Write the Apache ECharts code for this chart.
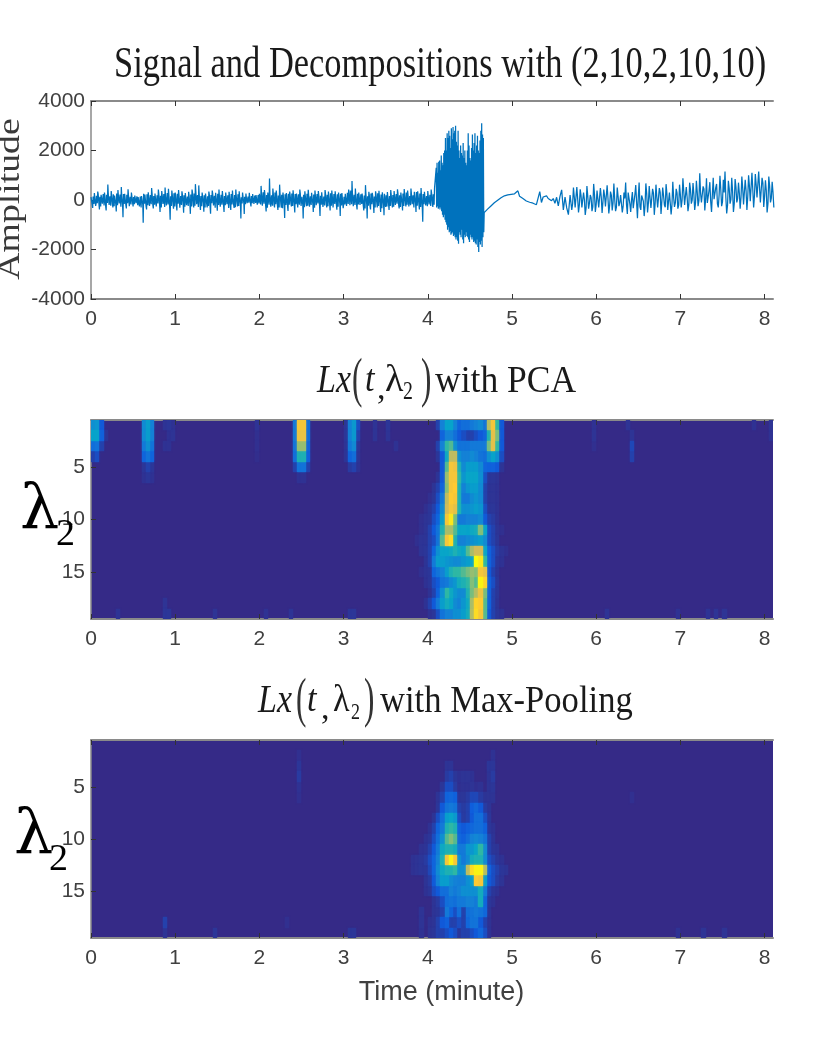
<!DOCTYPE html>
<html><head><meta charset="utf-8">
<style>html,body{margin:0;padding:0;background:#fff}#c{width:816px;height:1056px}</style>
<script src="https://cdn.jsdelivr.net/npm/echarts@6/dist/echarts.min.js"></script>
</head><body><div id="c"></div>
<script>
const xTicks=[0,1,2,3,4,5,6,7,8];
const ampTicks=[-4000,-2000,0,2000,4000];
const lambdaTicks=[5,10,15];
// signal: excursions of the quiet stretch
const sigA=[120,-320,280,-150,340,-380,210,-90,300,-420,630,-250,360,-300,180,-460,400,-120,520,-700,250,-340,430,-180,300,
-260,180,-150,120,-220,160,-915,220,-380,310,-260,480,-340,260,-300,420,-480,360,-200,500,-300,450,-800,380,-350,
300,-420,400,-260,350,-510,280,-180,330,-560,420,-300,640,-220,590,-400,300,-470,260,-300,340,-550,380,-150,290,
-430,420,-250,360,-480,300,-180,330,-400,380,-320,420,-260,350,-750,300,-560,260,-200,290,-260,240,-180,200,-220,
250,570,-280,400,-460,300,870,-350,460,-300,380,-400,620,-310,300,-730,280,-440,340,-260,390,-500,260,-360,420,
-300,-750,350,-250,410,-330,290,-480,380,-200,360,-650,310,-360,400,-300,340,-420,380,-240,350,-390,300,-650,280,
-200,250,-280,420,-250,770,-300,460,-380,300,-260,260,-420,600,-750,330,-380,290,-520,350,-300,370,-480,310,-620,
-280,320,-400,400,-300,360,-250,430,-340,300,-420,440,-260,380,-300,460,-200,330,-480,350,-380,480,-880,330,-300,
360,-250,420,-280,480];
// the dense core of the quiet stretch
const sigCore=[180,-210,140,-160,220,-240,170,-130,250,-190,130,-260,200,-150,240,-220,160,-280,210,-120,270,-200,150,-230,190,-170,230,-250,140,-190,260,-210,180,-140,220,-270,150,-200,240,-160,
170,-230,210,-130,190,-250,130,-180,160,-140,120,-170,180,-130,150,-210,200,-260,140,-300,220,-190,250,-150,170,-280,230,-210,130,-240,200,-170,280,-220,160,-190,240,-260,190,-140,
260,-200,170,-300,210,-160,240,-280,140,-220,280,-180,200,-330,150,-240,230,-190,270,-260,180,-230,250,-150,210,-310,160,-200,240,-170,190,-270,260,-210,140,-240,300,-180,220,-260,
310,-190,260,-230,340,-170,200,-280,240,-210,160,-250,230,-140,190,-300,270,-180,150,-240,220,-280,200,-130,260,-220,170,-310,230,-160,250,-200,140,-270,210,-190,280,-240,160,-210,
230,-170,190,-320,150,-260,240,-180,120,-210,200,-290,170,-150,230,-240,130,-190,110,-140,150,-120,130,-170,100,-130,140,-110,120,-150,160,-130,110,-160,180,-120,150,-190,200,-140,
220,-180,280,-230,310,-150,250,-260,200,-310,340,-190,240,-270,190,-230,260,-210,300,-170,220,-250,180,-300,270,-160,210,-330,150,-240,230,-200,170,-280,250,-190,200,-150,260,-240,
190,-220,240,-170,160,-300,230,-190,280,-240,130,-180,210,-290,170,-150,250,-230,190,-270,150,-200,260,-170,220,-310,180,-210,240,-140,200,-260,170,-190,230,-280,140,-220,260,-170,
210,-250,160,-190,270,-230,190,-300,240,-160,150,-210,230,-270,180,-140,250,-220,200,-330,130,-180,230,-240,290,-160,330,-210,380,-170,280,-250,210,-200,170,-230,250,-180,140,-200,
230,-160,290,-260,180,-340,240,-190,150,-230,210,-280,260,-170,190,-220,140,-300,230,-150,270,-240,170,-190,220,-330,150,-210,250,-170,190,-260,280,-200,160,-240,230,-180,200,-270,
170,-200,240,-150,290,-230,190,-280,150,-170,260,-240,210,-140,300,-190,230,-260,160,-210,280,-170,190,-300,250,-150,320,-230,180,-190,260,-280,200,-330,240,-170,290,-220,160,-250,310,-180,210,-240,270,-150,230,-190];
const sigB=[1300,-300,1500,-250,1100,-350,1550,-300,1600,-380,1200,-300,1800,-450,1500,-600,1400,-700,1900,-600,
2000,-800,2500,-900,2000,-1000,2700,-1200,2500,-1100,2800,-1300,2600,-1250,2100,-1400,2900,-1350,2450,-1300,
2950,-1450,2700,-1400,2800,-1500,3000,-1600,2350,-1500,2200,-1650,2800,-1770,2000,-1300,1700,-1400,2200,-1500,
1900,-1200,1800,-1600,2300,-1750,1700,-1400,2000,-1500,1500,-1300,1400,-1450,2000,-1500,2700,-1600,2200,-1700,
1700,-1400,1600,-1500,2100,-1600,2650,-1500,2000,-1700,2300,-1650,2700,-1750,1900,-1800,2200,-1600,2600,-1900,
2000,-2100,1900,-1700,2400,-1800,2800,-1650,3100,-1900,2650,-1500,2500,-1300];
const sigC=[-510,-440,-370,-300,-240,-170,-110,-60,-10,40,90,130,170,180,210,240,230,270,250,310,370,150,200,60,110,-40,30,-90,-60,-130,-150,-190,-170,340,-100,120,90,170,60,110,-30,60,-130,110,-240,150,410,-400,120,-320,-590,200];
const sigD=[-400,500,-300,520,-500,430,-300,300,-600,560,-350,200,-450,650,-480,380,-300,480,-520,420,-260,590,-540,340,-420,
670,-450,500,-250,200,-500,300,710,-560,350,-480,320,-350,600,-740,710,-400,250,-650,670,-500,560,-320,450,-600,
620,-300,480,-560,500,-200,640,-400,300,-580,740,-280,450,-350,620,-300,875,-200,520,-450,700,-150,690,-400,780,
-250,1080,-100,550,-420,880,-200,720,-480,900,-50,650,-300,980,-250,820,1150,-540,780,-150,900,-480,850,-100,700,
-350,950,-180,820,-400,1000,-50,1100,-300,1050,100,1150,-100,900,-280,800,-500,950,-100,740,-300];
const sigE=[-150,120,-300,60,-200,180,-250,20,-320,150,-120,90,-280,220,-180,40,-340,130,-90,160,-260,70,-210,200,-130,
30,-300,150,-110,240,-260,60,-190,300,-160,20,-330,230,-90,120,-280,180,-50,-230,260,-120,70,-240,280,-140,
110,-220,310,-60,180,-290,250,-30,340,-180,90,-120,290,-210,200,-10,360,-140,120,-200,410,0,240,-110,320,
-30,260,-180,450,50,-120,380,-60,240,30,500,-160,200,420,-80,300,90,-210,460,20,350,-140,520,60,280,
100,480,-120,380,120,550,-20,420,180,620,40,500,-60,680,150,390,-150,560,80,300];
// heat maps: active window, 25 columns from t = 3.8, 19 rows
const pcaGrid=[
[0,0,0,0,0,0,8,25,37,37,25,15,18,18,22,25,28,20,70,85,50,12,0,0,0],
[0,0,0,0,0,0,0,15,25,25,18,12,10,8,8,10,12,15,45,80,60,12,0,0,0],
[0,0,0,0,0,0,8,25,50,55,30,20,20,20,22,22,22,22,60,80,50,12,0,0,0],
[0,0,0,0,0,0,6,12,40,72,72,30,25,25,28,25,20,18,30,37,30,10,0,0,0],
[0,0,0,0,0,0,0,12,55,85,82,45,28,35,35,35,28,15,14,14,12,5,0,0,0],
[0,0,0,0,0,0,5,12,65,85,85,50,32,38,38,38,30,10,6,6,5,0,0,0,0],
[0,0,0,0,0,5,8,15,62,85,88,45,25,32,35,35,28,8,5,5,4,0,0,0,0],
[0,0,0,0,3,6,10,22,72,88,85,45,22,22,28,32,28,8,5,5,4,0,0,0,0],
[0,0,0,3,6,8,12,28,75,85,80,45,30,30,32,35,32,10,6,6,4,0,0,0,0],
[0,0,3,5,6,10,15,35,85,95,60,22,22,25,25,25,28,12,8,7,4,0,0,0,0],
[0,0,3,5,8,12,20,45,68,68,55,38,38,37,40,42,62,37,10,8,5,3,0,0,0],
[0,3,5,5,8,10,20,55,85,92,45,25,25,28,30,32,35,28,10,8,6,0,0,0,0],
[0,0,5,6,8,15,30,38,38,40,45,40,38,55,68,75,75,38,14,10,7,5,3,0,0],
[0,0,0,5,8,22,35,35,32,30,28,28,32,35,38,100,95,50,14,10,6,4,0,0,0],
[0,0,3,5,6,15,20,25,35,45,50,50,55,60,65,62,85,80,12,8,5,0,0,0,0],
[0,0,0,4,6,10,12,20,22,28,32,42,45,50,62,55,98,90,14,10,6,0,0,0,0],
[0,0,0,0,4,8,14,30,50,40,32,28,28,45,60,70,82,60,14,8,6,0,0,0,0],
[0,0,0,4,8,12,22,35,42,38,28,25,32,40,68,90,88,55,14,8,5,0,0,0,0],
[0,0,0,0,4,6,10,20,25,25,30,30,35,42,70,92,85,55,12,8,6,4,0,0,0]];
const maxGrid=[
[0,0,0,0,0,0,0,0,0,0,0,0,0,0,0,0,0,0,0,0,0,0,0,0,0],
[0,0,0,0,0,0,0,0,0,0,0,0,0,0,0,0,0,0,0,4,0,0,0,0,0],
[0,0,0,0,0,0,0,0,5,5,0,0,0,0,0,0,0,0,6,6,0,0,0,0,0],
[0,0,0,0,0,0,0,0,7,8,6,4,5,5,4,0,0,0,5,7,0,0,0,0,0],
[0,0,0,0,0,0,0,6,10,10,7,3,4,4,5,3,4,0,5,6,0,0,0,0,0],
[0,0,0,0,0,0,5,8,15,16,14,6,6,7,9,9,7,5,5,5,0,0,0,0,0],
[0,0,0,0,0,0,6,12,20,22,20,8,7,8,13,16,12,7,5,0,0,0,0,0,0],
[0,0,0,0,0,5,10,18,35,38,33,10,7,8,12,18,18,10,6,0,0,0,0,0,0],
[0,0,0,0,4,8,15,22,45,50,45,14,12,14,16,18,18,14,6,4,0,0,0,0,0],
[0,0,0,4,6,10,18,30,55,62,55,16,14,18,25,27,25,20,8,5,0,0,0,0,0],
[0,0,4,5,8,12,22,40,45,45,42,22,22,32,32,38,50,28,8,6,5,0,0,0,0],
[4,5,6,7,10,15,25,45,85,98,85,30,22,28,42,45,45,28,10,8,6,4,0,0,0],
[4,5,6,6,9,15,28,40,45,45,50,30,30,72,92,98,98,70,14,10,8,6,5,0,0],
[0,0,0,5,7,12,25,35,35,28,25,24,24,30,35,88,85,35,12,10,7,5,0,0,0],
[0,0,0,4,6,10,12,18,18,25,22,25,30,30,30,30,42,22,8,6,4,0,0,0,0],
[0,0,0,0,0,5,7,10,18,20,18,22,22,25,25,22,42,15,6,4,0,0,0,0,0],
[0,0,5,0,0,5,6,8,22,15,10,18,8,18,20,22,20,16,5,0,0,0,0,0,0],
[0,0,5,0,4,5,8,12,14,8,8,10,8,16,20,20,12,8,4,0,0,0,0,0,0],
[0,0,4,0,5,6,8,8,10,12,10,6,8,8,10,12,16,10,4,0,0,0,0,0,0]];
// isolated cells elsewhere: [time, row, level]
const pcaCells=[[0,1,30],[.05,1,32],[.1,1,12],[0,2,37],[.05,2,37],[.1,2,14],[.15,2,5],[0,3,18],[.05,3,20],[.1,3,8],[0,4,8],[.05,4,10],
[.6,1,28],[.65,1,35],[.7,1,25],[.6,2,28],[.65,2,35],[.7,2,25],[.6,3,22],[.65,3,30],[.7,3,20],[.6,4,15],[.65,4,20],[.7,4,15],[.6,5,6],[.65,5,8],[.7,5,6],[.6,6,4],[.65,6,6],[.7,6,4],
[.85,1,5],[.9,1,6],[.95,1,4],[.9,2,4],[.95,2,5],[.85,3,4],[.9,3,4],
[1.95,1,5],[1.95,2,3],[1.95,3,3],[1.95,4,2],
[2.4,1,22],[2.45,1,85],[2.5,1,85],[2.55,1,18],[2.4,2,22],[2.45,2,82],[2.5,2,82],[2.55,2,18],[2.4,3,20],[2.45,3,65],[2.5,3,65],[2.55,3,15],[2.4,4,18],[2.45,4,45],[2.5,4,45],[2.55,4,14],[2.4,5,8],[2.45,5,20],[2.5,5,20],[2.55,5,8],[2.45,6,4],[2.5,6,4],
[3,1,6],[3.05,1,25],[3.1,1,33],[3.15,1,10],[3,2,6],[3.05,2,25],[3.1,2,33],[3.15,2,8],[3,3,5],[3.05,3,22],[3.1,3,28],[3.15,3,6],[3,4,5],[3.05,4,15],[3.1,4,18],[3.15,4,5],[3.05,5,7],[3.1,5,8],[3.15,5,4],
[3.35,1,5],[3.35,2,5],[3.5,1,6],[3.5,2,5],[3.6,3,4],
[5.95,1,4],[5.95,2,5],[5.95,3,3],[6.35,1,5],[6.4,2,5],[6.4,3,9],[6.4,4,8],[7.85,1,4],[8.05,1,5],[8.05,2,4],
[.85,18,5],[.3,19,5],[.85,19,6],[.9,19,6],[1.45,19,5],[2.05,19,4],[2.35,19,5],[3.05,19,6],[3.1,19,6],[6.1,19,5],[6.95,19,4],[7.3,19,5],[7.4,19,5],[7.5,19,5]];
const maxCells=[[2.45,2,3],[2.45,3,6],[2.45,4,7],[2.45,5,4],[2.45,6,3],[.85,18,8],[.85,19,5],[1.45,19,6],[2.3,18,3],[3.05,19,6],[3.1,19,6],[6.4,6,3],[6.95,19,4],[7.25,19,5],[7.5,19,5]];
const parula=['#352A87','#2C3699','#0F5CDD','#1270DA','#1481D6','#0D93D0','#06A4CA','#1AAEB7','#2EB7A4','#5BBB8E','#87BF77','#ACBD68','#D1BB59','#E8C246','#FEC832','#FCE220','#F9FB0E'];

const sigPoints=[];
function addSeg(a,t0,dt){a.forEach((v,i)=>sigPoints.push([+(t0+i*dt).toFixed(3),v]));}
addSeg(sigA,0,.02);addSeg(sigCore,.005,.01);addSeg(sigB,4.10,.005);addSeg(sigC,4.67,.02);addSeg(sigD,5.71,.02);addSeg(sigE,5.72,.02);
sigPoints.sort((p,q)=>p[0]-q[0]);
function heatData(grid,cells){const out=cells.map(c=>c.slice());
 grid.forEach((r,ri)=>r.forEach((v,ci)=>{if(v>0)out.push([+(3.8+ci*.05).toFixed(2),ri+1,v]);}));
 return out.sort((p,q)=>p[2]-q[2]);}
const CW=.05;
function renderCell(params,api){
 const a=api.coord([api.value(0),api.value(1)-.5]),b=api.coord([api.value(0)+CW,api.value(1)+.5]);
 const x0=Math.round(a[0]),x1=Math.round(b[0]),y0=Math.round(a[1]),y1=Math.round(b[1]);
 const c=api.visual('color');
 return {type:'rect',shape:{x:x0,y:y0,width:x1-x0,height:y1-y0},style:{fill:c,shadowBlur:2,shadowColor:c}};
}
const LF={fontFamily:'"Liberation Sans",sans-serif',fontSize:21,color:'#404040'};
const axLine={show:true,onZero:false,lineStyle:{color:'#8a8a8a',width:2}};
const leftLine={show:true,onZero:false,lineStyle:{color:'#8a8a8a',width:1.5}};
const tick={show:true,inside:true,length:5,lineStyle:{color:'#333',width:1},customValues:xTicks};
function xAxes(g,extra){return [
 Object.assign({type:'value',gridIndex:g,min:0,max:8.1,position:'bottom',splitLine:{show:false},axisLine:axLine,axisTick:tick,
  axisLabel:Object.assign({},LF,{margin:10,customValues:xTicks,formatter:v=>String(v)})},extra||{}),
 {type:'value',gridIndex:g,min:0,max:8.1,position:'top',splitLine:{show:false},axisLine:axLine,axisTick:tick,axisLabel:{show:false}}];}
const yTickL={show:true,inside:true,length:5,lineStyle:{color:'#333',width:1},customValues:lambdaTicks};
function lamAxis(g){return {type:'value',gridIndex:g,inverse:true,min:.5,max:19.5,splitLine:{show:false},axisLine:leftLine,axisTick:yTickL,
 axisLabel:Object.assign({},LF,{margin:6,customValues:lambdaTicks,formatter:v=>String(v)})};}
const SER='"Liberation Serif",serif';
function T(text,x,y,size,sx,sy,o){o=o||{};return {type:'text',x:x,y:y,scaleX:sx,scaleY:sy,rotation:o.rot||0,z:50,silent:true,
 style:{text:text,fontFamily:o.ff||SER,fontSize:size,fontStyle:o.it?'italic':'normal',fill:o.fill||'#1a1a1a',align:o.align||'left',verticalAlign:'middle'}};}
const DV='"DejaVu Serif",serif';
const texts=[
 T('Signal and Decompositions with (2,10,2,10,10)',114,65,45,.765,1),
 T('Amplitude',11,199,32,1.18,1,{rot:Math.PI/2,align:'center',fill:'#3a3a3a'}),
 T('Lx',317,381,40,.85,1,{it:1}),T('(',352,382,52,.6,1.05,{fill:'#333'}),T('t',365,381,38,.9,1,{it:1}),T(',',377,390,34,1,1),
 T('λ',385,381,38,1,1),T('2',403,393,22,.9,1.1),T(')',421,382,52,.6,1.05,{fill:'#333'}),T('with PCA',435,382,37,.96,1),
 T('Lx',258,701,40,.85,1,{it:1}),T('(',296,702,52,.6,1.05,{fill:'#333'}),T('t',307,701,38,.9,1,{it:1}),T(',',321,710,34,1,1),
 T('λ',333,701,38,.9,1),T('2',351,713,20,.9,1.2),T(')',364,702,52,.6,1.05,{fill:'#333'}),T('with Max-Pooling',380,702,37,.935,1),
 T('λ',20,512,62,1,1,{fill:'#000',ff:DV}),T('2',56,535,38,1,1,{fill:'#000'}),
 T('λ',14,837,62,1,1,{fill:'#000',ff:DV}),T('2',49,860,38,1,1,{fill:'#000'})
];
const chart=echarts.init(document.getElementById('c'),null,{renderer:'canvas'});
chart.setOption({animation:false,backgroundColor:'#fff',
 grid:[{left:91,width:682,top:101,height:198,show:false},
  {left:91,width:682,top:420,height:199,show:true,backgroundColor:'#352A87',borderWidth:0},
  {left:91,width:682,top:740,height:198,show:true,backgroundColor:'#352A87',borderWidth:0}],
 xAxis:[...xAxes(0),...xAxes(1),...xAxes(2,{name:'Time (minute)',nameLocation:'middle',nameGap:41,
   nameTextStyle:{fontFamily:'"Liberation Sans",sans-serif',fontSize:27,color:'#404040',padding:[0,0,0,19]}})],
 yAxis:[{type:'value',gridIndex:0,min:-4000,max:4000,interval:2000,splitLine:{show:false},axisLine:leftLine,
   axisTick:{show:true,inside:true,length:5,lineStyle:{color:'#333',width:1}},axisLabel:Object.assign({},LF,{margin:6,formatter:v=>String(v)})},
  lamAxis(1),lamAxis(2)],
 visualMap:{show:false,seriesIndex:[1,2],dimension:2,min:0,max:100,inRange:{color:parula}},
 series:[
  {type:'line',xAxisIndex:0,yAxisIndex:0,data:sigPoints,showSymbol:false,symbol:'none',sampling:null,lineStyle:{color:'#0072BD',width:1.25},z:2},
  {type:'custom',xAxisIndex:2,yAxisIndex:1,renderItem:renderCell,data:heatData(pcaGrid,pcaCells),encode:{x:0,y:1},z:1,clip:true},
  {type:'custom',xAxisIndex:4,yAxisIndex:2,renderItem:renderCell,data:heatData(maxGrid,maxCells),encode:{x:0,y:1},z:1,clip:true}
 ],
 graphic:{elements:texts}
});
</script></body></html>
